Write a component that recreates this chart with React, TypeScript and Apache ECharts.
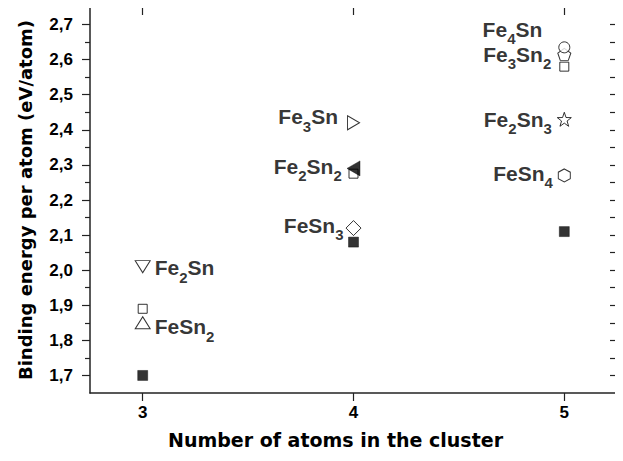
import React, { useEffect, useRef } from "react";
import * as echarts from "echarts";

// ---- data ----
const xTicks = [3, 4, 5];
const yTicks = [1.7, 1.8, 1.9, 2.0, 2.1, 2.2, 2.3, 2.4, 2.5, 2.6, 2.7];
const yMinorTicks = [1.75, 1.85, 1.95, 2.05, 2.15, 2.25, 2.35, 2.45, 2.55, 2.65];

const filledSquares = [[3, 1.70], [4, 2.08], [5, 2.11]];
const openSquares = [[3, 1.89], [4, 2.275], [5, 2.58]];
const fe2Sn = [[3, 2.01]];
const feSn2 = [[3, 1.85]];
const fe3Sn = [[4, 2.42]];
const fe2Sn2 = [[4, 2.29]];
const feSn3 = [[4, 2.12]];
const fe4Sn = [[5, 2.635]];
const fe3Sn2 = [[5, 2.615]];
const fe2Sn3 = [[5, 2.43]];
const feSn4 = [[5, 2.27]];

const FONT = "'Liberation Sans', Arial, sans-serif";
const HEAVY = "'DejaVu Sans', sans-serif";
const INK = "#000000";
const FRAME = "#222222";

const SYM = {
  down: "path://M0,0 L10,0 L5,8.66 Z",
  up: "path://M5,0 L10,8.66 L0,8.66 Z",
  right: "path://M0,0 L8.66,5 L0,10 Z",
  left: "path://M8.66,0 L0,5 L8.66,10 Z",
  star: "path://M10,0 L12.35,6.76 L19.51,6.91 L13.8,11.24 L15.88,18.09 L10,14 L4.12,18.09 L6.2,11.24 L0.49,6.91 L7.65,6.76 Z",
  hex: "path://M5,0 L9.33,2.5 L9.33,7.5 L5,10 L0.67,7.5 L0.67,2.5 Z",
  pent: "path://M5,0 L10,3.8 L8.1,9.5 L1.9,9.5 L0,3.8 Z",
};

const rich = {
  m: { fontSize: 21, fontWeight: "bold", fontFamily: FONT, color: INK, lineHeight: 23 },
  s: { fontSize: 15, fontWeight: "bold", fontFamily: FONT, color: INK, lineHeight: 15, padding: [19, 0, 0, 0] },
};

function label(text: string, position: string, distance: number, offset: number[] = [0, 0]) {
  return { show: true, position, distance, offset, formatter: text, rich };
}

const openStyle = { color: "#ffffff", borderColor: INK, borderWidth: 1 };
const fillStyle = { color: INK, borderColor: INK, borderWidth: 0.5 };

function sc(name: string, data: number[][], symbol: string, size: number | number[], style: any, lab?: any, z = 2) {
  return {
    type: "scatter",
    name,
    data,
    symbol,
    symbolSize: size,
    itemStyle: style,
    label: lab || { show: false },
    z,
    emphasis: { disabled: true },
  };
}

export default function App() {
  const ref = useRef<HTMLDivElement>(null);
  useEffect(() => {
    if (!ref.current) return;
    const chart = echarts.init(ref.current, undefined, { renderer: "svg" });
    const axisLine = { show: true, lineStyle: { color: FRAME, width: 1.5 } };
    const tickLine = { color: FRAME, width: 1.2 };
    chart.setOption({
      animation: false,
      backgroundColor: "#ffffff",
      grid: { left: 90, right: 6, top: 7, bottom: 68 },
      xAxis: [
        {
          type: "value",
          position: "bottom",
          min: 2.75,
          max: 5.25,
          axisLine,
          splitLine: { show: false },
          axisTick: { show: true, customValues: xTicks, length: 8, inside: false, lineStyle: tickLine },
          axisLabel: {
            customValues: xTicks,
            margin: 11,
            fontSize: 17,
            fontWeight: "bold",
            fontFamily: FONT,
            color: INK,
          },
          name: "Number of atoms in the cluster",
          nameLocation: "middle",
          nameGap: 37,
          nameTextStyle: { fontSize: 19, fontWeight: "bold", fontFamily: HEAVY, color: INK, padding: [0, 36, 0, 0] },
        },
        {
          type: "value",
          position: "top",
          min: 2.75,
          max: 5.25,
          axisLine,
          splitLine: { show: false },
          axisTick: { show: true, customValues: xTicks, length: 8, inside: true, lineStyle: tickLine },
          axisLabel: { show: false },
        },
      ],
      yAxis: [
        {
          type: "value",
          position: "left",
          min: 1.65,
          max: 2.75,
          axisLine,
          splitLine: { show: false },
          axisTick: { show: true, customValues: yTicks, length: 8, inside: false, lineStyle: tickLine },
          axisLabel: {
            customValues: yTicks,
            margin: 17,
            fontSize: 17,
            fontWeight: "bold",
            fontFamily: FONT,
            color: INK,
            formatter: (v: number) => v.toFixed(1).replace(".", ","),
          },
          name: "Binding energy per atom (eV/atom)",
          nameLocation: "middle",
          nameGap: 56,
          nameTextStyle: { fontSize: 18, fontWeight: "bold", fontFamily: HEAVY, color: INK },
        },
        {
          type: "value",
          position: "left",
          min: 1.65,
          max: 2.75,
          axisLine: { show: false },
          splitLine: { show: false },
          axisTick: { show: true, customValues: yMinorTicks, length: 5, inside: false, lineStyle: tickLine },
          axisLabel: { show: false },
        },
        {
          type: "value",
          position: "right",
          min: 1.65,
          max: 2.75,
          axisLine,
          splitLine: { show: false },
          axisTick: { show: true, customValues: yTicks.concat(yMinorTicks), length: 7, inside: true, lineStyle: tickLine },
          axisLabel: { show: false },
        },
      ],
      series: [
        sc("open squares", openSquares, "rect", 9, openStyle, undefined, 2),
        sc("filled squares", filledSquares, "rect", 10, fillStyle, undefined, 3),
        sc("Fe2Sn", fe2Sn, SYM.down, [15, 12], openStyle, label("{m|Fe}{s|2}{m|Sn}", "right", 4, [0, 1])),
        sc("FeSn2", feSn2, SYM.up, [15, 12], openStyle, label("{m|FeSn}{s|2}", "right", 4, [0, 4])),
        sc("Fe3Sn", fe3Sn, SYM.right, [12, 14], openStyle, label("{m|Fe}{s|3}{m|Sn}", "left", 9, [0, -6])),
        sc("Fe2Sn2", fe2Sn2, SYM.left, [13, 15], fillStyle, label("{m|Fe}{s|2}{m|Sn}{s|2}", "left", 5, [0, -2]), 4),
        sc("FeSn3", feSn3, "diamond", [15, 15], openStyle, label("{m|FeSn}{s|3}", "left", 2, [0, -3]), 4),
        sc("Fe3Sn2", fe3Sn2, SYM.pent, [13, 12], openStyle, label("{m|Fe}{s|3}{m|Sn}{s|2}", "left", 6, [0, 0]), 4),
        sc("Fe4Sn", fe4Sn, "circle", 11, openStyle, label("{m|Fe}{s|4}{m|Sn}", "left", 16, [0, -18]), 5),
        sc("Fe2Sn3", fe2Sn3, SYM.star, [14, 14], openStyle, label("{m|Fe}{s|2}{m|Sn}{s|3}", "left", 5, [0, 0])),
        sc("FeSn4", feSn4, SYM.hex, [12, 13], openStyle, label("{m|FeSn}{s|4}", "left", 5, [0, -2])),
      ],
    });
    return () => chart.dispose();
  }, []);
  return <div ref={ref} style={{ width: 623, height: 461, margin: -8 }} />;
}
